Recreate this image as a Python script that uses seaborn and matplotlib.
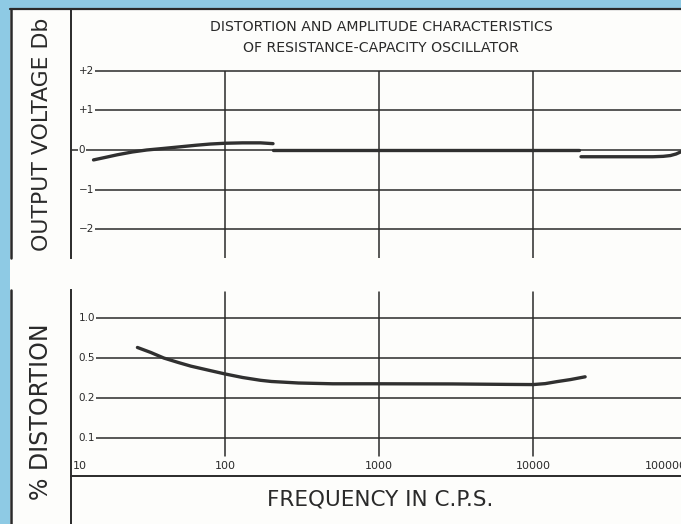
import numpy as np
import matplotlib
matplotlib.use("Agg")
import matplotlib.pyplot as plt
from matplotlib.lines import Line2D
from matplotlib.patches import Rectangle
import seaborn as sns

# Output voltage (dB) curve, drawn in three separate segments
volt_freq_1 = [14, 17, 20, 25, 31, 40, 51, 65, 80, 100, 130, 170, 205]
volt_db_1 = [-0.25, -0.18, -0.12, -0.05, 0.0, 0.04, 0.08, 0.12, 0.15, 0.17, 0.18, 0.18, 0.16]
volt_freq_2 = [205, 1000, 10000, 20000]
volt_db_2 = [0.0, 0.0, 0.0, 0.0]
volt_freq_3 = [20500, 40000, 60000, 70000, 78000, 85000, 92000]
volt_db_3 = [-0.17, -0.17, -0.17, -0.16, -0.14, -0.10, -0.04]

# % distortion curve
dist_freq = [27, 33, 40, 50, 60, 80, 100, 130, 170, 200, 300, 500, 1000, 3000,
             7000, 10000, 12000, 14300, 17500, 21800]
dist_pct = [0.60, 0.55, 0.50, 0.45, 0.415, 0.375, 0.347, 0.32, 0.30, 0.292, 0.282,
            0.277, 0.277, 0.276, 0.273, 0.272, 0.278, 0.291, 0.305, 0.325]

db_ticks = [2, 1, 0, -1, -2]
db_labels = ["+2", "+1", "0", "\u22121", "\u22122"]
dist_ticks = [1.0, 0.5, 0.2, 0.1]
dist_labels = ["1.0", "0.5", "0.2", "0.1"]
freq_ticks = [10, 100, 1000, 10000, 100000]
freq_labels = ["10", "100", "1000", "10000", "100000"]

BLUE = "#8ecae4"
PAPER = "#fdfdfb"
INK = "#2a2a2a"
W, H = 681, 524

sns.set_style("white")
plt.rcParams["font.family"] = ["DejaVu Sans"]

# distortion axis: 0.1, 0.2, 0.5, 1.0 are equally spaced on the chart
LOG_T = np.log10([0.1, 0.2, 0.5, 1.0])
POS_T = np.arange(4.0)


def dist_fwd(v):
    lv = np.log10(np.clip(np.asarray(v, dtype=float), 1e-9, None))
    out = np.interp(lv, LOG_T, POS_T)
    out = np.where(lv < LOG_T[0], (lv - LOG_T[0]) / (LOG_T[1] - LOG_T[0]), out)
    out = np.where(lv > LOG_T[-1], 3 + (lv - LOG_T[-1]) / (LOG_T[-1] - LOG_T[-2]), out)
    return out


def dist_inv(p):
    p = np.asarray(p, dtype=float)
    out = np.interp(p, POS_T, LOG_T)
    out = np.where(p < 0, LOG_T[0] + p * (LOG_T[1] - LOG_T[0]), out)
    out = np.where(p > 3, LOG_T[-1] + (p - 3) * (LOG_T[-1] - LOG_T[-2]), out)
    return 10 ** out


fig = plt.figure(figsize=(W / 100, H / 100), dpi=100, facecolor=BLUE)
fig.add_artist(Rectangle((10 / W, 0), 1, 1 - 9 / H, transform=fig.transFigure,
                         facecolor=PAPER, edgecolor="none", zorder=-5))
# printed frame lines
fig.add_artist(Line2D([10 / W, 1], [1 - 8.5 / H] * 2, color=INK, lw=1.6))
fig.add_artist(Line2D([10.5 / W] * 2, [1 - 9 / H, 1 - 258 / H], color=INK, lw=1.8))
fig.add_artist(Line2D([10.5 / W] * 2, [0, 1 - 290 / H], color=INK, lw=1.8))

x0 = 71 / W
xw = 616 / W

# ---------------- top panel: output voltage ----------------
ax1 = fig.add_axes([x0, 1 - 258 / H, xw, 248 / H])
ax1.set_facecolor("none")
ax1.set_xscale("log")
ax1.set_xlim(10, 100000)
px_db = 39.7
ax1.set_ylim(-108 / px_db, 140 / px_db)
for s in ["top", "right", "bottom"]:
    ax1.spines[s].set_visible(False)
ax1.spines["left"].set_color(INK)
ax1.spines["left"].set_linewidth(1.4)
ax1.set_xticks([])
ax1.set_yticks([])
ax1.minorticks_off()

for t, lab in zip(db_ticks, db_labels):
    start = 10 if t == 0 else 14.3
    ax1.hlines(t, start, 100000, color=INK, lw=1.1, zorder=1)
    ax1.text(11.2, t, lab, fontsize=7.5, color=INK, ha="left", va="center",
             zorder=3, bbox=dict(facecolor=PAPER, edgecolor="none", pad=0.6))
ax1.vlines(freq_ticks[1:], ax1.get_ylim()[0], 2, color=INK, lw=1.1, zorder=1)

for fx, dy in [(volt_freq_1, volt_db_1), (volt_freq_2, volt_db_2), (volt_freq_3, volt_db_3)]:
    sns.lineplot(x=fx, y=dy, ax=ax1, color="#303030", lw=2.4, estimator=None,
                 sort=False, zorder=4)

# ---------------- bottom panel: distortion ----------------
ax2 = fig.add_axes([x0, 0, xw, 234 / H])
ax2.set_facecolor("none")
ax2.set_xscale("log")
ax2.set_xlim(10, 100000)
ax2.set_yscale("function", functions=(dist_fwd, dist_inv))
# 40 px per step, 0.1 line 38 px above the x line, panel top 28 px above 1.0
ax2.set_ylim(dist_inv(-(38 + 48) / 40), dist_inv(3 + 28 / 40))
for s in ["top", "right"]:
    ax2.spines[s].set_visible(False)
ax2.spines["bottom"].set_position(("axes", 48 / 234))
for s in ["left", "bottom"]:
    ax2.spines[s].set_color(INK)
    ax2.spines[s].set_linewidth(1.4)
ax2.set_xticks([])
ax2.set_yticks([])
ax2.minorticks_off()

for t, lab in zip(dist_ticks, dist_labels):
    ax2.hlines(t, 14.3, 100000, color=INK, lw=1.1, zorder=1)
    ax2.text(11.2, t, lab, fontsize=7.5, color=INK, ha="left", va="center",
             zorder=3, bbox=dict(facecolor=PAPER, edgecolor="none", pad=0.6))
for f in freq_ticks[1:]:
    ax2.axvline(f, ymin=(524 - 456) / 234, ymax=(524 - 292) / 234, color=INK, lw=1.1, zorder=1)

for f, lab in zip(freq_ticks, freq_labels):
    ha = "left" if f == 10 else ("right" if f == 100000 else "center")
    ax2.text(10.3 if f == 10 else f, (524 - 466) / 234, lab, fontsize=8, color=INK,
             ha=ha, va="center", transform=ax2.get_xaxis_transform())

sns.lineplot(x=dist_freq, y=dist_pct, ax=ax2, color="#303030", lw=2.4,
             estimator=None, sort=False, zorder=4)

# ---------------- texts ----------------
fig.text(381 / W, 1 - 27 / H, "DISTORTION AND AMPLITUDE CHARACTERISTICS",
         fontsize=10.2, color=INK, ha="center", va="center")
fig.text(381 / W, 1 - 48 / H, "OF RESISTANCE-CAPACITY OSCILLATOR",
         fontsize=10.2, color=INK, ha="center", va="center")
fig.text(42 / W, 1 - 134 / H, "OUTPUT VOLTAGE Db", fontsize=15.8, color=INK,
         rotation=90, ha="center", va="center")
fig.text(41 / W, 1 - 412 / H, "% DISTORTION", fontsize=17, color=INK,
         rotation=90, ha="center", va="center")
fig.text(380 / W, 1 - 500 / H, "FREQUENCY IN C.P.S.", fontsize=15.5, color=INK,
         ha="center", va="center")

fig.savefig("out.png", dpi=100, facecolor=BLUE)
